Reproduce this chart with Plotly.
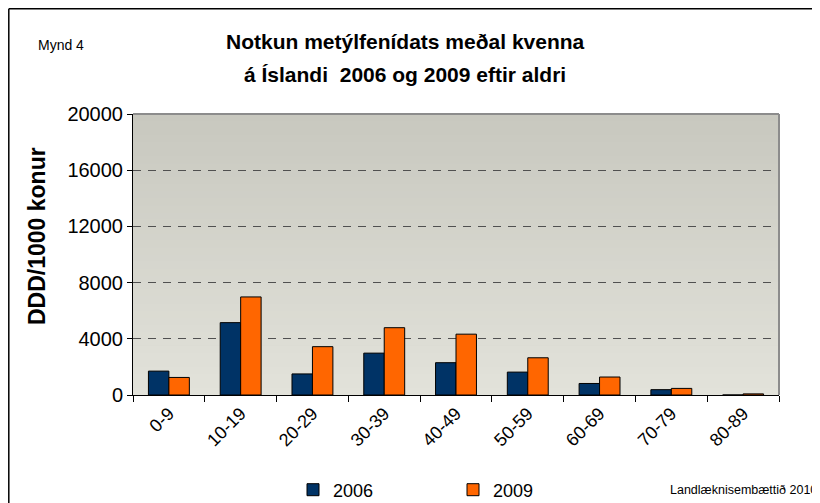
import plotly.graph_objects as go

ages = ["0-9", "10-19", "20-29", "30-39", "40-49", "50-59", "60-69", "70-79", "80-89"]
ddd_2006 = [1700, 5150, 1500, 2980, 2300, 1630, 820, 380, 0]
ddd_2009 = [1250, 6980, 3440, 4790, 4330, 2650, 1280, 470, 80]
y_ticks = [0, 4000, 8000, 12000, 16000, 20000]

FONT = "Liberation Sans, Arial, sans-serif"
# page has an 8px body margin, so the figure sits 8px in from the window corner
OFF = 8
W, H = 820 - OFF, 503 - OFF
L, T = 133 - OFF, 114 - OFF
R = W - (779 - OFF)
B = H - (395 - OFF)
PW, PH = W - L - R, H - T - B


def px_x(x):
    # x in window pixels -> paper coords
    return (x - OFF - L) / PW


def px_y(y):
    return (H - B - (y - OFF)) / PH


fig = go.Figure()
fig.add_trace(go.Bar(x=ages, y=ddd_2006, name="2006",
                     marker=dict(color="#003366", line=dict(color="black", width=1))))
fig.add_trace(go.Bar(x=ages, y=ddd_2009, name="2009",
                     marker=dict(color="#FF6600", line=dict(color="black", width=1))))

# gradient background bands (darker at top)
shapes = []
n = 40
top_c, bot_c = (200, 200, 191), (226, 226, 218)
for i in range(n):
    t = i / (n - 1)
    c = tuple(round(bot_c[k] + (top_c[k] - bot_c[k]) * t) for k in range(3))
    shapes.append(dict(type="rect", xref="x domain", yref="y domain",
                       x0=0, x1=1, y0=i / n, y1=(i + 1) / n + 0.002,
                       fillcolor="rgb(%d,%d,%d)" % c, line=dict(width=0), layer="below"))
# grey top and right border of plot area
shapes.append(dict(type="line", xref="x domain", yref="y domain", x0=0, x1=1, y0=1, y1=1,
                   line=dict(color="#8c8c8c", width=2)))
shapes.append(dict(type="line", xref="x domain", yref="y domain", x0=1, x1=1, y0=0, y1=1,
                   line=dict(color="#8c8c8c", width=2)))
# outer frame: only top and left edges are visible in the window
frame = dict(color="black", width=1.5)
shapes.append(dict(type="line", xref="paper", yref="paper",
                   x0=px_x(8.8), x1=px_x(830), y0=px_y(8.8), y1=px_y(8.8), line=frame))
shapes.append(dict(type="line", xref="paper", yref="paper",
                   x0=px_x(8.8), x1=px_x(8.8), y0=px_y(8.8), y1=px_y(510), line=frame))

annotations = [
    dict(text="Mynd 4", x=px_x(36), y=px_y(45), xanchor="left", yanchor="middle",
         font=dict(size=14, color="black", family=FONT)),
    dict(text="<b>Notkun metýlfenídats meðal kvenna</b>", x=px_x(405), y=px_y(42),
         xanchor="center", yanchor="middle", font=dict(size=21, color="black", family=FONT)),
    dict(text="<b>á Íslandi  2006 og 2009 eftir aldri</b>", x=px_x(405), y=px_y(74),
         xanchor="center", yanchor="middle", font=dict(size=21, color="black", family=FONT)),
    dict(text="<b>DDD/1000 konur</b>", x=px_x(37), y=px_y(236), textangle=-90,
         xanchor="center", yanchor="middle", font=dict(size=23, color="black", family=FONT)),
    dict(text="Landlæknisembættið 2010", x=px_x(668), y=px_y(490), xanchor="left",
         yanchor="middle", font=dict(size=12.5, color="black", family=FONT)),
]
for a in annotations:
    a.update(xref="paper", yref="paper", showarrow=False)

fig.update_layout(
    width=W, height=H,
    margin=dict(l=L, r=R, t=T, b=B, autoexpand=False),
    paper_bgcolor="white",
    plot_bgcolor="#d8d8d0",
    barmode="group",
    bargap=0.43,
    bargroupgap=0,
    font=dict(family=FONT, color="black"),
    shapes=shapes,
    annotations=annotations,
    showlegend=True,
    legend=dict(orientation="h", x=px_x(293), y=px_y(490), xanchor="left", yanchor="middle",
                font=dict(size=18, family=FONT, color="black"),
                entrywidth=115, entrywidthmode="pixels", bgcolor="rgba(0,0,0,0)"),
)
fig.update_xaxes(
    type="category", showline=True, linecolor="black", linewidth=1,
    ticks="outside", tickson="boundaries", ticklen=6, tickcolor="black",
    tickangle=-45, tickfont=dict(size=18, family=FONT, color="black"),
    showgrid=False,
)
fig.update_yaxes(
    range=[0, 20000], tickvals=y_ticks, ticktext=[str(v) for v in y_ticks],
    showline=True, linecolor="black", linewidth=1,
    ticks="outside", ticklen=5, tickcolor="black",
    tickfont=dict(size=20, family=FONT, color="black"),
    showgrid=True, gridcolor="#505050", griddash="8px,7px", gridwidth=1,
    zeroline=False,
)

fig.write_html("out.html")
